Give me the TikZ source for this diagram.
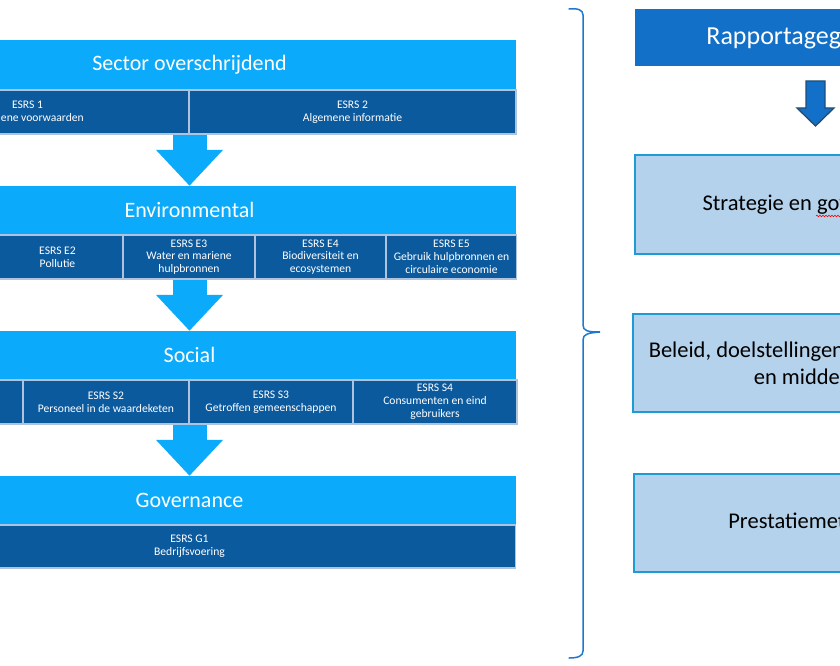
\documentclass[tikz,border=0pt]{standalone}
\usepackage{fontspec}
\setmainfont{Carlito}
\usetikzlibrary{arrows.meta,calc,decorations.pathmorphing}
\definecolor{hdrblue}{RGB}{12,170,250}
\definecolor{celldark}{RGB}{12,90,158}
\definecolor{cellline}{RGB}{175,195,222}
\definecolor{boxfill}{RGB}{180,210,235}
\definecolor{boxline}{RGB}{30,155,215}
\definecolor{topblue}{RGB}{18,112,200}
\definecolor{arrline}{RGB}{31,78,121}
\definecolor{bracec}{RGB}{30,120,210}
\tikzset{
  hdr/.style={fill=hdrblue, text=white, minimum width=652pt, inner sep=0pt,
    font=\fontsize{22}{26}\selectfont},
  cell/.style={fill=celldark, draw=cellline, line width=1.5pt, text=white,
    inner sep=0pt, align=center, font=\fontsize{11.6}{12.8}\selectfont},
  rbox/.style={fill=boxfill, draw=boxline, line width=1.2pt, minimum width=356pt,
    inner sep=0pt, align=center, font=\fontsize{22.5}{27}\selectfont},
  bigarr/.style={draw=hdrblue, line width=34pt, -{Triangle[length=36pt,width=65pt]}, shorten <=0pt},
}
\begin{document}
\begin{tikzpicture}[x=1pt,y=-1pt]
\useasboundingbox (0,0) rectangle (840,666);
\clip (0,0) rectangle (840,666);
% ---- Sector overschrijdend
\node[hdr, minimum height=49pt] (sech) at (189.5,64.5) {Sector overschrijdend};
\node[cell, minimum width=322pt, minimum height=44pt] (s1) at (27.5,112) {ESRS 1\\Algemene voorwaarden};
\node[cell, minimum width=327pt, minimum height=44pt] (s2) at (352.5,112) {ESRS 2\\Algemene informatie};
% ---- Environmental
\node[hdr, minimum height=48pt] (envh) at (189.5,210) {Environmental};
\node[cell, minimum width=131pt, minimum height=44pt] (e1) at (-73.5,257) {};
\node[cell, minimum width=131pt, minimum height=44pt] (e2) at (57.5,257) {ESRS E2\\Pollutie};
\node[cell, minimum width=131pt, minimum height=44pt] (e3) at (189,257) {ESRS E3\\Water en mariene\\hulpbronnen};
\node[cell, minimum width=131pt, minimum height=44pt] (e4) at (320.5,257) {ESRS E4\\Biodiversiteit en\\ecosystemen};
\node[cell, minimum width=130pt, minimum height=44pt] (e5) at (451.5,257) {ESRS E5\\Gebruik hulpbronnen en\\circulaire economie};
% ---- Social
\node[hdr, minimum height=48pt] (soch) at (189.5,355) {Social};
\node[cell, minimum width=164pt, minimum height=44pt] (so1) at (-59,402) {};
\node[cell, minimum width=166pt, minimum height=44pt] (so2) at (106,402) {ESRS S2\\Personeel in de waardeketen};
\node[cell, minimum width=164pt, minimum height=44pt] (so3) at (271,402) {ESRS S3\\Getroffen gemeenschappen};
\node[cell, minimum width=164pt, minimum height=44pt] (so4) at (435,402) {ESRS S4\\Consumenten en eind\\gebruikers};
% ---- Governance
\node[hdr, minimum height=48pt] (govh) at (189.5,500) {Governance};
\node[cell, minimum width=652pt, minimum height=43pt] (g1) at (189.5,546.5) {ESRS G1\\Bedrijfsvoering};
% ---- block arrows
\draw[bigarr] (sech.center |- s1.south) -- (envh.north);
\draw[bigarr] (envh.center |- e3.south) -- (soch.north);
\draw[bigarr] (soch.center |- so3.south) -- (govh.north);
% ---- brace
\coordinate (btop) at (569,9);
\coordinate (btip) at (600,332);
\coordinate (bbot) at (569,658);
\draw[bracec, line width=1.5pt, line cap=round]
  (btop) .. controls (578,8) and (583,10) .. (583,15) -- (583,325)
  .. controls (583,331) and (588,332) .. (btip)
  .. controls (588,333) and (583,334) .. (583,340) -- (583,651)
  .. controls (583,656) and (578,658) .. (bbot);
% ---- right column
\node[fill=topblue, text=white, minimum width=363pt, minimum height=57pt, inner sep=0pt,
  font=\fontsize{26}{30}\selectfont] (rap) at (816.5,37.5) {Rapportagegebieden};
\node[rbox, minimum height=99pt] (str) at (813,204.5) {Strategie en governance};
\node[rbox, minimum height=98pt] (bel) at (811,363) {Beleid, doelstellingen, actieplannen\\en middelen};
\node[rbox, minimum height=98pt] (pre) at (812,523) {Prestatiemetingen};
\draw[red, line width=0.6pt, decorate, decoration={snake, amplitude=0.8pt, segment length=3pt}]
  (816,216) -- (842,216);
% dark down arrow
\draw[fill=topblue, draw=arrline, line width=1.3pt, line join=miter]
  (806,81) -- (825,81) -- (825,108) -- (834,108) -- (815.5,126) -- (797,108) -- (806,108) -- cycle;
\end{tikzpicture}
\end{document}
